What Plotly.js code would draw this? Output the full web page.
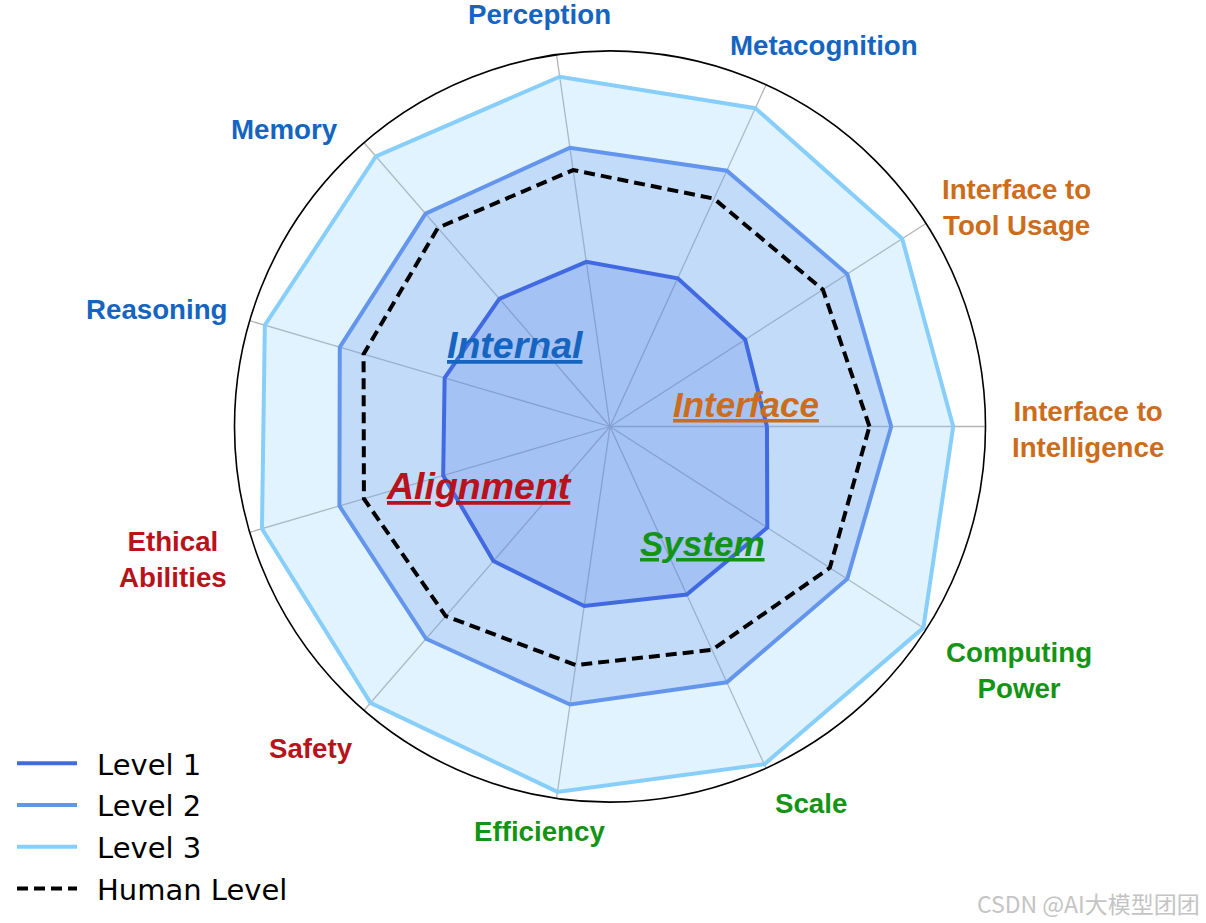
<!DOCTYPE html>
<html>
<head>
<meta charset="utf-8">
<script src="https://cdn.plot.ly/plotly-3.0.1.min.js"></script>
<style>html,body{margin:0;padding:0;background:#fff;}#chart{width:1206px;height:923px;}</style>
</head>
<body>
<div id="chart"></div>
<script>
// ---- data ----
var categories = ['Interface to Intelligence', 'Interface to Tool Usage', 'Metacognition', 'Perception',
  'Memory', 'Reasoning', 'Ethical Abilities', 'Safety', 'Efficiency', 'Scale', 'Computing Power'];
var level1 = [0.418, 0.428, 0.434, 0.443, 0.450, 0.459, 0.463, 0.474, 0.483, 0.492, 0.498];
var level2 = [0.749, 0.751, 0.749, 0.750, 0.750, 0.750, 0.751, 0.748, 0.748, 0.749, 0.751];
var level3 = [0.914, 0.925, 0.932, 0.941, 0.952, 0.958, 0.966, 0.974, 0.983, 0.989, 0.992];
var human  = [0.691, 0.674, 0.667, 0.690, 0.700, 0.684, 0.683, 0.668, 0.642, 0.654, 0.696];
var seriesNames = ['Level 1', 'Level 2', 'Level 3', 'Human Level'];
var categoryLabels = ['Interface to<br>Intelligence', 'Interface to<br>Tool Usage', 'Metacognition', 'Perception',
  'Memory', 'Reasoning', 'Ethical<br>Abilities', 'Safety', 'Efficiency', 'Scale', 'Computing<br>Power'];
var groupLabels = ['Internal', 'Interface', 'Alignment', 'System'];

// ---- styling ----
var W = 1206, H = 923;
var cx = 610, cy = 426.5, R = 375.5;
var BLUE = '#1565c0', ORANGE = '#cc6d1c', GREEN = '#149414', RED = '#b8121b';
var labelColors = [ORANGE, ORANGE, BLUE, BLUE, BLUE, BLUE, RED, RED, GREEN, GREEN, GREEN];
// label centres in pixels (layout)
var labelPx = [[1088, 429], [1016, 207], [824, 46], [539, 15], [284, 129], [157, 309],
  [173, 559], [311, 748], [539, 831], [811, 803], [1019, 670]];
var groupColors = [BLUE, ORANGE, RED, GREEN];
var groupPx = [[515, 345], [746, 404], [479, 486], [702, 543]];
var groupSizes = [37.5, 35, 37.5, 35];

function closed(a) { return a.concat([a[0]]); }
var theta = closed(categories);

var lineColors = ['#4169e1', '#6495ed', '#87cefa', '#000000'];
var fillColors = ['rgba(65,105,225,0.22)', 'rgba(100,149,237,0.25)', 'rgba(135,206,250,0.25)'];
var vals = [level1, level2, level3, human];
var pad = '\u00a0\u2009';

var traces = [];
// fills (outer first)
[2, 1, 0].forEach(function (i) {
  traces.push({
    type: 'scatterpolar', mode: 'lines', r: closed(vals[i]), theta: theta,
    fill: 'toself', fillcolor: fillColors[i], line: {width: 0, color: 'rgba(0,0,0,0)'},
    showlegend: false, hoverinfo: 'skip'
  });
});
// lines
[0, 1, 2, 3].forEach(function (i) {
  traces.push({
    type: 'scatterpolar', mode: 'lines', r: closed(vals[i]), theta: theta,
    name: pad + seriesNames[i], legendgroup: 'g' + i,
    line: {width: 4, color: lineColors[i], dash: i === 3 ? '11px,6px' : 'solid'},
    showlegend: true
  });
});

var annotations = [];
categories.forEach(function (c, i) {
  annotations.push({
    xref: 'paper', yref: 'paper', x: labelPx[i][0] / W, y: 1 - labelPx[i][1] / H,
    xanchor: 'center', yanchor: 'middle', align: 'center', showarrow: false,
    text: '<b>' + categoryLabels[i] + '</b>',
    font: {family: 'Liberation Sans, Arial, sans-serif', size: 27.7, color: labelColors[i]}
  });
});
groupLabels.forEach(function (g, i) {
  annotations.push({
    xref: 'paper', yref: 'paper', x: groupPx[i][0] / W, y: 1 - groupPx[i][1] / H,
    xanchor: 'center', yanchor: 'middle', showarrow: false,
    text: '<b><i><u>' + g + '</u></i></b>',
    font: {family: 'Liberation Sans, Arial, sans-serif', size: groupSizes[i], color: groupColors[i]}
  });
});
annotations.push({
  xref: 'paper', yref: 'paper', x: 1088 / W, y: 1 - 903 / H, xanchor: 'center', yanchor: 'middle',
  showarrow: false, text: 'CSDN @AI大模型团团',
  font: {family: 'Noto Sans CJK SC, sans-serif', size: 23, color: '#c4c4c4'}
});

var layout = {
  width: W, height: H,
  margin: {l: 0, r: 0, t: 0, b: 0},
  paper_bgcolor: '#ffffff',
  showlegend: true,
  legend: {
    x: 12 / W, y: 1 - 738 / H, xanchor: 'left', yanchor: 'top',
    bgcolor: 'rgba(0,0,0,0)', borderwidth: 0,
    font: {family: 'DejaVu Sans, sans-serif', size: 29, color: '#000'},
    itemwidth: 60, tracegroupgap: 1
  },
  polar: {
    domain: {x: [(cx - R) / W, (cx + R) / W], y: [1 - (cy + R) / H, 1 - (cy - R) / H]},
    bgcolor: '#ffffff',
    radialaxis: {range: [0, 1], visible: false, showgrid: false},
    angularaxis: {
      type: 'category', categoryarray: categories, rotation: 0, direction: 'counterclockwise',
      showgrid: true, gridcolor: '#b4b4b4', gridwidth: 1.3,
      showline: true, linecolor: '#000000', linewidth: 1.6,
      showticklabels: false, ticks: ''
    }
  },
  annotations: annotations
};

Plotly.newPlot('chart', traces, layout, {displayModeBar: false, staticPlot: true});
</script>
</body>
</html>
